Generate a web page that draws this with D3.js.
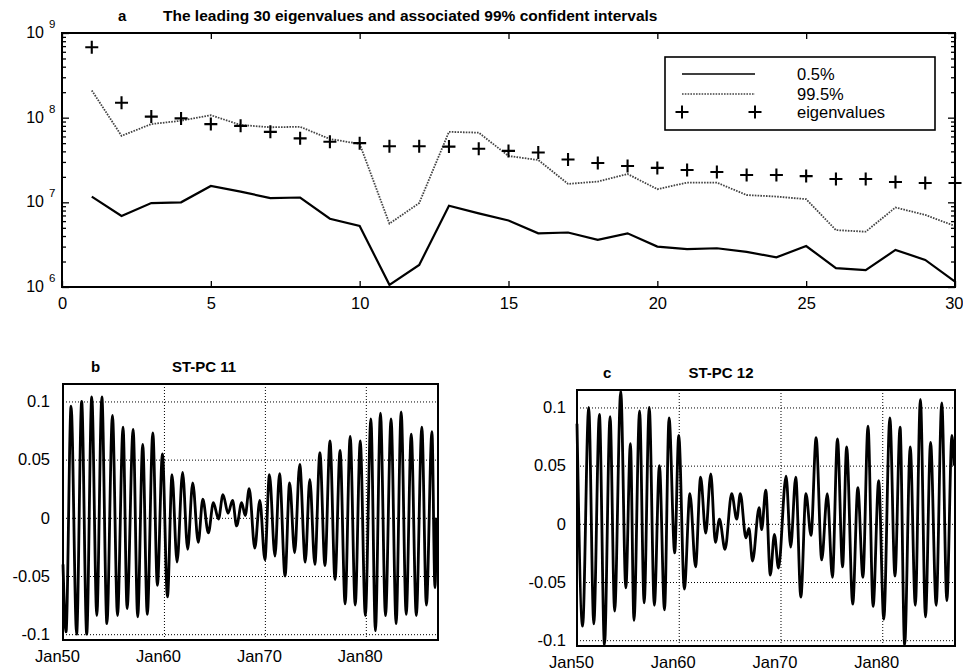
<!DOCTYPE html>
<html><head><meta charset="utf-8">
<script src="https://cdn.jsdelivr.net/npm/d3@7"></script>
<style>
body{margin:0;background:#fff}
svg text{font-family:"Liberation Sans",Arial,Helvetica,sans-serif;fill:#000}
</style>
</head><body>
<svg id="chart" width="963" height="671"></svg>
<script>
// ---------- Panel a data ----------
const modeIndex = d3.range(1, 31);
const eigenvalues = [6.8e8,1.5e8,1.03e8,9.8e7,8.4e7,8.0e7,6.8e7,5.7e7,5.2e7,5.0e7,
  4.6e7,4.6e7,4.55e7,4.3e7,4.05e7,3.87e7,3.2e7,2.92e7,2.69e7,2.55e7,
  2.41e7,2.28e7,2.1e7,2.1e7,2.04e7,1.89e7,1.89e7,1.74e7,1.69e7,1.69e7];
const upper995 = [2.1e8,6.1e7,8.4e7,9.2e7,1.07e8,8.2e7,7.7e7,7.8e7,5.6e7,4.9e7,
  5.6e6,9.8e6,6.8e7,6.65e7,3.53e7,3.16e7,1.65e7,1.76e7,2.16e7,1.43e7,
  1.71e7,1.71e7,1.22e7,1.17e7,1.09e7,4.7e6,4.5e6,8.7e6,7.1e6,5.25e6];
const lower05 = [1.17e7,6.9e6,9.8e6,1.0e7,1.56e7,1.34e7,1.12e7,1.14e7,6.4e6,5.25e6,
  1.06e6,1.82e6,9.1e6,7.4e6,6.1e6,4.3e6,4.4e6,3.6e6,4.3e6,3.0e6,
  2.8e6,2.87e6,2.6e6,2.24e6,3.05e6,1.67e6,1.58e6,2.74e6,2.09e6,1.16e6];
const xTicksA = [0,5,10,15,20,25,30];
const decadeExponents = [6,7,8,9];
const legendLabels = ["0.5%","99.5%","eigenvalues"];
const titleA = "The leading 30 eigenvalues and associated 99% confident intervals";

// ---------- Panels b, c data (turning points) ----------
const pc11Years = [1950.0,1950.3,1950.8,1951.35,1951.85,1952.35,1952.85,1953.35,1953.85,1954.35,
  1954.9,1955.4,1955.95,1956.35,1956.95,1957.4,1957.9,1958.35,1958.9,1959.35,
  1959.85,1960.35,1960.8,1961.3,1961.85,1962.35,1962.85,1963.4,1963.85,1964.4,
  1964.9,1965.4,1965.85,1966.35,1966.8,1967.2,1967.7,1968.05,1968.45,1969.0,
  1969.5,1970.0,1970.45,1971.0,1971.45,1972.0,1972.45,1972.95,1973.45,1974.0,
  1974.45,1974.95,1975.45,1975.95,1976.45,1976.95,1977.45,1977.95,1978.45,1978.95,
  1979.45,1979.95,1980.5,1980.95,1981.45,1981.95,1982.5,1983.0,1983.5,1984.0,
  1984.5,1985.0,1985.55,1986.0,1986.55,1986.85,1987.0];
const pc11Values = [-0.04,-0.098,0.096,-0.1,0.1,-0.1,0.104,-0.084,0.104,-0.091,
  0.088,-0.084,0.078,-0.078,0.076,-0.085,0.063,-0.083,0.073,-0.058,
  0.055,-0.068,0.037,-0.038,0.039,-0.027,0.03,-0.021,0.016,-0.013,
  0.013,-0.001,0.02,0.004,0.015,-0.007,0.013,0.002,0.025,-0.026,
  0.015,-0.036,0.037,-0.033,0.038,-0.05,0.03,-0.03,0.046,-0.038,
  0.033,-0.04,0.056,-0.041,0.066,-0.053,0.058,-0.074,0.07,-0.075,
  0.066,-0.084,0.085,-0.097,0.09,-0.084,0.085,-0.091,0.091,-0.083,
  0.072,-0.084,0.078,-0.075,0.074,-0.06,0.0];
const pc12Years = [1950.0,1950.55,1951.15,1951.65,1952.2,1952.7,1953.25,1953.7,1954.3,1954.8,
  1955.25,1955.6,1956.15,1956.6,1957.1,1957.6,1958.1,1958.6,1959.05,1959.6,
  1960.0,1960.55,1961.1,1961.65,1962.15,1962.65,1963.15,1963.6,1964.0,1964.55,
  1965.2,1965.7,1966.05,1966.6,1966.9,1967.25,1967.9,1968.15,1968.55,1969.0,
  1969.4,1969.8,1970.55,1971.0,1971.5,1972.0,1972.5,1973.0,1973.5,1974.05,
  1974.6,1975.1,1975.6,1976.1,1976.5,1977.1,1977.6,1978.1,1978.6,1979.1,
  1979.65,1980.15,1980.75,1981.25,1981.75,1982.2,1982.75,1983.25,1983.75,1984.25,
  1984.75,1985.3,1985.85,1986.35,1986.85,1987.05];
const pc12Values = [0.086,-0.088,0.1,-0.086,0.094,-0.104,0.092,-0.075,0.114,-0.055,
  0.069,-0.083,0.097,-0.068,0.1,-0.07,0.05,-0.074,0.091,-0.025,
  0.076,-0.056,0.026,-0.037,0.04,-0.008,0.043,-0.016,0.004,-0.022,
  0.026,0.004,0.026,-0.012,-0.004,-0.032,0.014,-0.005,0.029,-0.044,
  -0.009,-0.038,0.041,-0.02,0.04,-0.063,0.026,-0.01,0.074,-0.031,
  0.026,-0.046,0.073,-0.037,0.066,-0.069,0.031,-0.046,0.084,-0.071,
  0.037,-0.082,0.091,-0.045,0.083,-0.104,0.066,-0.07,0.107,-0.08,
  0.07,-0.07,0.104,-0.066,0.076,0.05];
const timeTicks = [1950,1960,1970,1980];
const timeTickLabels = ["Jan50","Jan60","Jan70","Jan80"];
const valueTicks = [-0.1,-0.05,0,0.05,0.1];
const valueTickLabels = ["-0.1","-0.05","0","0.05","0.1"];

const svg = d3.select("#chart");

// ================= Panel a =================
const A = {l:62, r:955, t:33, b:287};
const xa = d3.scaleLinear().domain([0,30]).range([A.l, A.r]);
const ya = d3.scaleLog().domain([1e6,1e9]).range([A.b, A.t]);
const ga = svg.append("g");

const majors = decadeExponents.map(e => Math.pow(10,e));
const minors = [];
decadeExponents.slice(0,-1).forEach(e => { for (let k=2;k<10;k++) minors.push(k*Math.pow(10,e)); });

function cleanAxis(g){ g.select(".domain").remove(); g.selectAll("line").attr("stroke","#000").attr("stroke-width",1.3); }

const axB = ga.append("g").attr("transform",`translate(0,${A.b})`)
  .call(d3.axisBottom(xa).tickValues(xTicksA).tickSize(-6).tickPadding(10).tickFormat(d3.format("d")))
  .call(cleanAxis);
axB.selectAll("text").attr("font-size",16.5);
// keep the last label inside the page (the reference shows it pressed against the edge)
axB.selectAll(".tick").filter(d => d === 30).select("text").attr("text-anchor","end").attr("dx",8);
ga.append("g").attr("transform",`translate(0,${A.t})`)
  .call(d3.axisTop(xa).tickValues(xTicksA).tickSize(-6).tickFormat(""))
  .call(cleanAxis);
[[A.l, d3.axisLeft],[A.r, d3.axisRight]].forEach(([px, ax]) => {
  ga.append("g").attr("transform",`translate(${px},0)`)
    .call(ax(ya).tickValues(majors).tickSize(-7).tickFormat("")).call(cleanAxis);
  ga.append("g").attr("transform",`translate(${px},0)`)
    .call(ax(ya).tickValues(minors).tickSize(-4).tickFormat("")).call(cleanAxis);
});
// log labels 10^n
const lab = ga.append("g").selectAll("g").data(decadeExponents).join("g")
  .attr("transform", d => `translate(0,${ya(Math.pow(10,d))})`);
lab.append("text").attr("x",44).attr("y",5).attr("text-anchor","end").attr("font-size",16).text("10");
lab.append("text").attr("x",49).attr("y",-5).attr("font-size",11.5).text(d => d);

// lines
const lineA = d3.line().x((d,i)=>xa(modeIndex[i])).y(d=>ya(d));
ga.append("path").datum(lower05).attr("d",lineA).attr("fill","none")
  .attr("stroke","#000").attr("stroke-width",2.2);
ga.append("path").datum(upper995).attr("d",lineA).attr("fill","none")
  .attr("stroke","#444").attr("stroke-width",1.8).attr("stroke-dasharray","1.6,1.2");
const plus = "M-6.5,0H6.5M0,-6.5V6.5";
ga.append("g").selectAll("path").data(eigenvalues).join("path")
  .attr("transform",(d,i)=>`translate(${xa(modeIndex[i])},${ya(d)})`)
  .attr("d",plus).attr("stroke","#000").attr("stroke-width",2.1).attr("fill","none");

// frame
ga.append("rect").attr("x",A.l).attr("y",A.t).attr("width",A.r-A.l).attr("height",A.b-A.t)
  .attr("fill","none").attr("stroke","#000").attr("stroke-width",2);

// legend
const lg = ga.append("g");
lg.append("rect").attr("x",665).attr("y",57).attr("width",270).attr("height",73)
  .attr("fill","#fff").attr("stroke","#000").attr("stroke-width",1.6);
const rowsY = [74,94,112];
lg.append("line").attr("x1",682).attr("x2",755).attr("y1",rowsY[0]).attr("y2",rowsY[0])
  .attr("stroke","#000").attr("stroke-width",1.6);
lg.append("line").attr("x1",682).attr("x2",755).attr("y1",rowsY[1]).attr("y2",rowsY[1])
  .attr("stroke","#444").attr("stroke-width",1.5).attr("stroke-dasharray","1.6,1.2");
[682,755].forEach(px => lg.append("path").attr("transform",`translate(${px},${rowsY[2]})`)
  .attr("d",plus).attr("stroke","#000").attr("stroke-width",2));
lg.selectAll("text.l").data(legendLabels).join("text").attr("class","l")
  .attr("x",797).attr("y",(d,i)=>rowsY[i]+5.5).attr("font-size",16.5).text(d=>d);

// title
ga.append("text").attr("x",118).attr("y",21).attr("font-size",15).attr("font-weight","bold").text("a");
ga.append("text").attr("x",163).attr("y",21).attr("font-size",15.5).attr("font-weight","bold").text(titleA);

// ================= Panels b, c =================
function tsPanel(cfg){
  const {l,r,t,b,years,values,letter,title,lx,tx,pad} = cfg;
  const x = d3.scaleLinear().domain([1950,1987.15]).range([l,r]);
  const y = d3.scaleLinear().domain([-0.105,0.115]).range([b,t]);
  const g = svg.append("g");
  const gx = g.append("g").attr("transform",`translate(0,${b})`)
    .call(d3.axisBottom(x).tickValues(timeTicks).tickFormat((d,i)=>timeTickLabels[i])
      .tickSize(-(b-t)).tickPadding(10));
  gx.select(".domain").remove();
  gx.selectAll("line").attr("stroke","#000").attr("stroke-width",1).attr("stroke-dasharray","1,2");
  gx.selectAll("text").attr("font-size",16.5).attr("dx",-6);
  const gy = g.append("g").attr("transform",`translate(${l},0)`)
    .call(d3.axisLeft(y).tickValues(valueTicks).tickFormat((d,i)=>valueTickLabels[i])
      .tickSize(-(r-l)).tickPadding(pad));
  gy.select(".domain").remove();
  gy.selectAll("line").attr("stroke","#000").attr("stroke-width",1).attr("stroke-dasharray","1,2");
  gy.selectAll("text").attr("font-size",16.5);
  const line = d3.line().x((d,i)=>x(years[i])).y(d=>y(d)).curve(d3.curveMonotoneX);
  g.append("path").datum(values).attr("d",line).attr("fill","none")
    .attr("stroke","#000").attr("stroke-width",2.8).attr("stroke-linejoin","round");
  g.append("rect").attr("x",l).attr("y",t).attr("width",r-l).attr("height",b-t)
    .attr("fill","none").attr("stroke","#000").attr("stroke-width",2);
  g.append("text").attr("x",lx).attr("y",t-12).attr("font-size",15).attr("font-weight","bold").text(letter);
  g.append("text").attr("x",tx).attr("y",t-12).attr("font-size",15).attr("font-weight","bold")
    .attr("text-anchor","middle").text(title);
}
tsPanel({l:63,r:438,t:384,b:640,years:pc11Years,values:pc11Values,letter:"b",title:"ST-PC 11",lx:91,tx:204,pad:13});
tsPanel({l:577,r:955,t:390,b:646,years:pc12Years,values:pc12Values,letter:"c",title:"ST-PC 12",lx:603,tx:721,pad:11});
</script>
</body></html>
